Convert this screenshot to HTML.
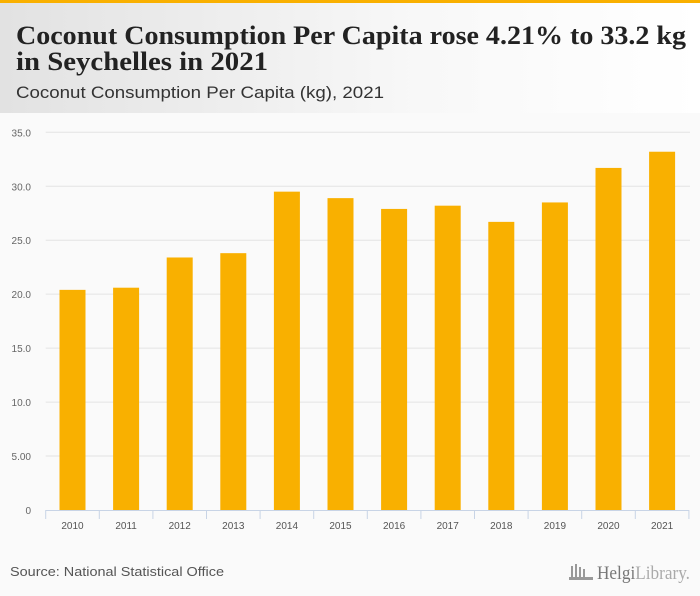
<!DOCTYPE html>
<html><head><meta charset="utf-8"><style>
html,body{margin:0;padding:0;background:#fafafa;}
svg{display:block;}
</style></head><body>
<svg width="700" height="596" viewBox="0 0 700 596" xmlns="http://www.w3.org/2000/svg">
<defs><linearGradient id="hg" x1="0" x2="1" y1="0" y2="0"><stop offset="0" stop-color="#e2e2e2"/><stop offset="0.6" stop-color="#f8f8f8"/><stop offset="1" stop-color="#ffffff"/></linearGradient></defs>
<rect x="0" y="0" width="700" height="596" fill="#fafafa"/>
<rect x="0" y="0" width="700" height="113" fill="url(#hg)"/>
<rect x="0" y="0" width="700" height="3" fill="#f9b000"/>
<text x="16" y="44" font-family="Liberation Serif, serif" font-weight="bold" font-size="26" fill="#222" textLength="670" lengthAdjust="spacingAndGlyphs">Coconut Consumption Per Capita rose 4.21% to 33.2 kg</text>
<text x="16" y="70" font-family="Liberation Serif, serif" font-weight="bold" font-size="26" fill="#222" textLength="252" lengthAdjust="spacingAndGlyphs">in Seychelles in 2021</text>
<text x="16" y="98" font-family="Liberation Sans, sans-serif" font-size="17" fill="#333" textLength="368" lengthAdjust="spacingAndGlyphs">Coconut Consumption Per Capita (kg), 2021</text>
<g id="grid"></g>
<g id="bars"></g>
<g id="axis"></g>
<text x="10" y="576" font-family="Liberation Sans, sans-serif" font-size="13" fill="#555" textLength="214" lengthAdjust="spacingAndGlyphs">Source: National Statistical Office</text>
<g>
<g fill="#999"><rect x="571" y="566" width="2" height="12"/><rect x="575" y="564" width="2" height="14"/><rect x="579" y="567" width="2" height="11"/><rect x="583" y="569" width="2" height="9"/><rect x="569" y="577" width="24" height="3"/></g>
<text x="597" y="579" font-family="Liberation Serif, serif" font-size="19" fill="#888" textLength="93" lengthAdjust="spacingAndGlyphs"><tspan fill="#777">Helgi</tspan><tspan fill="#aaa">Library.</tspan></text>
</g>
</svg>
<script>
const years = ["2010","2011","2012","2013","2014","2015","2016","2017","2018","2019","2020","2021"];
const values = [20.4,20.6,23.4,23.8,29.5,28.9,27.9,28.2,26.7,28.5,31.7,33.2];
const yTicks = [0,5,10,15,20,25,30,35];
const yTickLabels = ["0","5.00","10.0","15.0","20.0","25.0","30.0","35.0"];
const NS="http://www.w3.org/2000/svg";
const x0=45.7, bandW=53.6, y0=510, pxPerUnit=(510-132.3)/35;
const yS=v=>y0-v*pxPerUnit;
const grid=document.getElementById('grid'), bars=document.getElementById('bars'), axis=document.getElementById('axis');
yTicks.forEach((t,i)=>{
  if(t>0){const l=document.createElementNS(NS,'line');
  l.setAttribute('x1',x0);l.setAttribute('x2',690);l.setAttribute('y1',yS(t));l.setAttribute('y2',yS(t));
  l.setAttribute('stroke','#e3e3e3');l.setAttribute('stroke-width','1');
  
  
  grid.appendChild(l);}
  const tx=document.createElementNS(NS,'text');
  tx.setAttribute('x',31);tx.setAttribute('y',yS(t)+4);tx.setAttribute('text-anchor','end');
  tx.setAttribute('font-family','Liberation Sans, sans-serif');tx.setAttribute('font-size','10');tx.setAttribute('fill','#666');
  tx.textContent=yTickLabels[i];
  
  
  grid.appendChild(tx);
});
years.forEach((yr,i)=>{
  const r=document.createElementNS(NS,'rect');
  const bx=x0+i*bandW+(bandW-26)/2;
  r.setAttribute('x',bx);r.setAttribute('width',26);
  r.setAttribute('y',yS(values[i]));r.setAttribute('height',y0-yS(values[i]));
  r.setAttribute('fill','#f9b000');
  
  
  bars.appendChild(r);
  const tx=document.createElementNS(NS,'text');
  tx.setAttribute('x',x0+i*bandW+bandW/2);tx.setAttribute('y',529);tx.setAttribute('text-anchor','middle');
  tx.setAttribute('font-family','Liberation Sans, sans-serif');tx.setAttribute('font-size','10');tx.setAttribute('fill','#555');
  tx.textContent=yr;
  
  
  axis.appendChild(tx);
});
for(let i=0;i<=years.length;i++){
  const l=document.createElementNS(NS,'line');
  const x=x0+i*bandW;
  l.setAttribute('x1',x);l.setAttribute('x2',x);l.setAttribute('y1',y0);l.setAttribute('y2',y0+9);
  l.setAttribute('stroke','#c8d4e6');
  
  
  axis.appendChild(l);
}
const al=document.createElementNS(NS,'line');
al.setAttribute('x1',x0);al.setAttribute('x2',x0+12*bandW);al.setAttribute('y1',y0+0.5);al.setAttribute('y2',y0+0.5);
al.setAttribute('stroke','#c8d4e6');


axis.appendChild(al);
</script>
</body></html>
